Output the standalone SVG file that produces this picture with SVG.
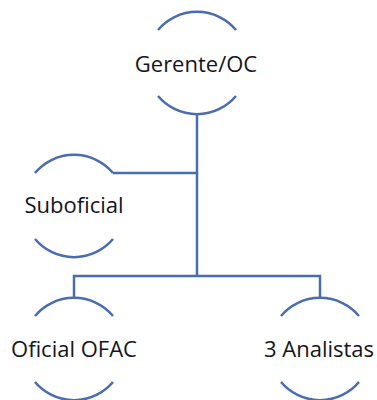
<svg xmlns="http://www.w3.org/2000/svg" width="377" height="400" viewBox="0 0 377 400">
<style>
.arc{fill:none;stroke:#4a6cb0;stroke-width:2.5}
.con{fill:none;stroke:#4a6cb0;stroke-width:2.5}
text{font-family:"Open Sans","Liberation Sans",sans-serif;font-size:22px;fill:#14141e;text-anchor:middle}
</style>
<rect width="377" height="400" fill="#fff"/>
<g id="connectors">
<path class="con" d="M197 114 V276"/>
<path class="con" d="M113 173 H197"/>
<path class="con" d="M74 298 V276 H320 V298"/>
</g>
<g id="gerente">
<path class="arc" d="M158 30 A51 51 0 0 1 236 30"/>
<path class="arc" d="M158 96 A51 51 0 0 0 236 96"/>
<text x="196" y="72">Gerente/OC</text>
</g>
<g id="suboficial">
<path class="arc" d="M35 173 A51 51 0 0 1 113 173"/>
<path class="arc" d="M35 239 A51 51 0 0 0 113 239"/>
<text x="74" y="213">Suboficial</text>
</g>
<g id="oficial">
<path class="arc" d="M35 316 A51 51 0 0 1 113 316"/>
<path class="arc" d="M35 382 A51 51 0 0 0 113 382"/>
<text x="74" y="357">Oficial OFAC</text>
</g>
<g id="analistas">
<path class="arc" d="M281 316 A51 51 0 0 1 359 316"/>
<path class="arc" d="M281 382 A51 51 0 0 0 359 382"/>
<text x="319" y="357">3 Analistas</text>
</g>
</svg>
